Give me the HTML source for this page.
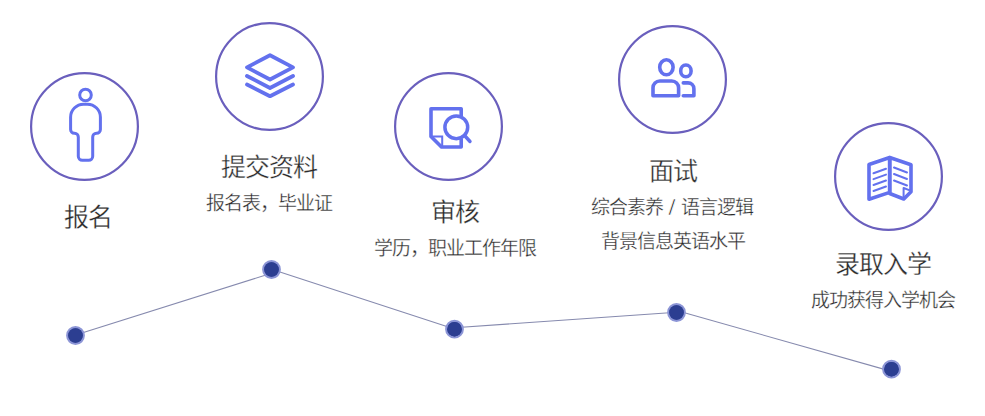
<!DOCTYPE html>
<html lang="zh-CN">
<head>
<meta charset="utf-8">
<style>
html,body{margin:0;padding:0;background:#fff;}
body{width:985px;height:416px;position:relative;overflow:hidden;font-family:"Liberation Sans",sans-serif;color:#333;}
svg.bg{position:absolute;left:0;top:0;}
.t{position:absolute;white-space:nowrap;text-align:center;transform:translateX(-50%);}
.h{font-size:25px;line-height:34px;letter-spacing:-1px;text-indent:-1px;}
.t{-webkit-text-stroke:0.3px #fff;color:#2a2a2a;}
.s{font-size:19px;line-height:26px;letter-spacing:-1px;text-indent:-1px;}
</style>
</head>
<body>
<svg class="bg" width="985" height="416" viewBox="0 0 985 416">
  <g fill="none" stroke="#6a5fbd" stroke-width="2.2">
    <circle cx="84.5" cy="126.5" r="53.4"/>
    <circle cx="269.5" cy="76.5" r="53.4"/>
    <circle cx="448.5" cy="126.5" r="53.4"/>
    <circle cx="672.5" cy="79.5" r="53.4"/>
    <circle cx="888.5" cy="176.5" r="53.4"/>
  </g>
  <!-- icons -->
  <g fill="none" stroke="#6371ee" stroke-width="3" stroke-linecap="round" stroke-linejoin="round">
    <!-- person -->
    <circle cx="85.5" cy="95" r="5.8"/>
    <path d="M78.3 137 L78.3 156.3 A4 4 0 0 0 82.3 160.3 L88.7 160.3 A4 4 0 0 0 92.7 156.3 L92.7 137 A3.7 3.7 0 0 1 96.4 133.3 L96.7 133.3 A3.7 3.7 0 0 0 100.4 129.6 L100.4 117.2 A13 13 0 0 0 87.4 104.2 L83.6 104.2 A13 13 0 0 0 70.6 117.2 L70.6 129.6 A3.7 3.7 0 0 0 74.3 133.3 L74.6 133.3 A3.7 3.7 0 0 1 78.3 137 Z"/>
    <!-- layers -->
    <g stroke-width="3.8">
      <path d="M270 55.2 L293 67.4 L270 79.5 L247 67.4 Z"/>
      <path d="M247 76 L270 88 L293 76"/>
      <path d="M247 84.5 L270 96.2 L293 84.5"/>
    </g>
    <!-- magnifier doc -->
    <g stroke-width="3.6" stroke-linecap="butt" stroke-linejoin="miter">
      <path d="M461.2 116 L461.2 108.8 L431 108.8 L431 136.5 L441.5 147 L461.2 147 L461.2 138.5" stroke-linejoin="round"/>
      <path d="M431.5 136.4 L442.2 136.4 L442.2 146" stroke-width="2"/>
    </g>
    <circle cx="456.3" cy="127.3" r="11.4" stroke-width="3.5"/>
    <path d="M465 136 L470 141.5" stroke-width="3.4"/>
    <!-- people -->
    <g stroke-width="3.6">
      <ellipse cx="666.4" cy="67.3" rx="6.7" ry="7.5"/>
      <ellipse cx="685.9" cy="70.9" rx="5.2" ry="5.85"/>
      <path d="M653 95.8 L653 87.8 A6.8 6.8 0 0 1 659.8 81 L671.8 81 A6.8 6.8 0 0 1 678.6 87.8 L678.6 95.8 Z"/>
      <path d="M683.3 82.9 L688 82.9 A5.9 5.9 0 0 1 693.9 88.8 L693.9 95.8 L683.3 95.8"/>
    </g>
    <!-- book -->
    <g stroke-width="3.6" stroke-linejoin="round" stroke-linecap="butt">
      <path d="M889.7 157.5 L869 164.5 L869 199.2 L889.7 192.4 Z"/>
      <path d="M889.7 157.5 L911 164.8 L911 191.7 L903.8 199 L889.7 193.5 Z"/>
    </g>
    <g stroke-width="2" stroke-linecap="round">
      <path d="M873.5 173.3 L886 168.8"/>
      <path d="M873.5 179.1 L886 174.6"/>
      <path d="M873.5 185 L886 180.5"/>
      <path d="M873.5 191 L886 186.5"/>
      <path d="M894 167.5 L907 172.5"/>
      <path d="M894 174 L907 179"/>
      <path d="M894 180.5 L907 185.5"/>
      <path d="M903.6 197.5 L903.6 188 L910.5 190.6" stroke-linecap="butt"/>
    </g>
  </g>
  <!-- timeline -->
  <g fill="none" stroke="#868aae" stroke-width="1.1">
    <line x1="75.5" y1="335" x2="271.5" y2="273.2"/>
    <line x1="271.5" y1="269.2" x2="454.5" y2="329.1"/>
    <line x1="454.5" y1="327.7" x2="676.5" y2="312.3"/>
    <line x1="676.5" y1="310.5" x2="891.5" y2="371.4"/>
  </g>
  <g fill="#2c3e91" stroke="#8c95d6" stroke-width="2.2">
    <circle cx="75.5" cy="335.5" r="8.3"/>
    <circle cx="271.5" cy="269.5" r="8.3"/>
    <circle cx="454.5" cy="329.2" r="8.3"/>
    <circle cx="676.5" cy="312.5" r="8.3"/>
    <circle cx="891.5" cy="369.2" r="8.3"/>
  </g>
  <g fill="#2c3e91">
    <circle cx="75.5" cy="335.5" r="7.3"/>
    <circle cx="271.5" cy="269.5" r="7.3"/>
    <circle cx="454.5" cy="329.2" r="7.3"/>
    <circle cx="676.5" cy="312.5" r="7.3"/>
    <circle cx="891.5" cy="369.2" r="7.3"/>
  </g>
</svg>

<div class="t h" style="left:88.6px;top:200px;">报名</div>

<div class="t h" style="left:269.6px;top:150px;">提交资料</div>
<div class="t s" style="left:269.8px;top:191px;">报名表，毕业证</div>

<div class="t h" style="left:455.5px;top:194.6px;">审核</div>
<div class="t s" style="left:455.5px;top:235.7px;">学历，职业工作年限</div>

<div class="t h" style="left:673.2px;top:154px;">面试</div>
<div class="t s" style="left:672.5px;top:195px;">综合素养 <span style="display:inline-block;margin:0 3.3px;transform:translateY(0.2px) scale(1.4,1.17);-webkit-text-stroke:0.6px #fff">/</span> 语言逻辑</div>
<div class="t s" style="left:673px;top:229px;">背景信息英语水平</div>

<div class="t h" style="left:883px;top:247px;">录取入学</div>
<div class="t s" style="left:883.4px;top:287.5px;">成功获得入学机会</div>
</body>
</html>
